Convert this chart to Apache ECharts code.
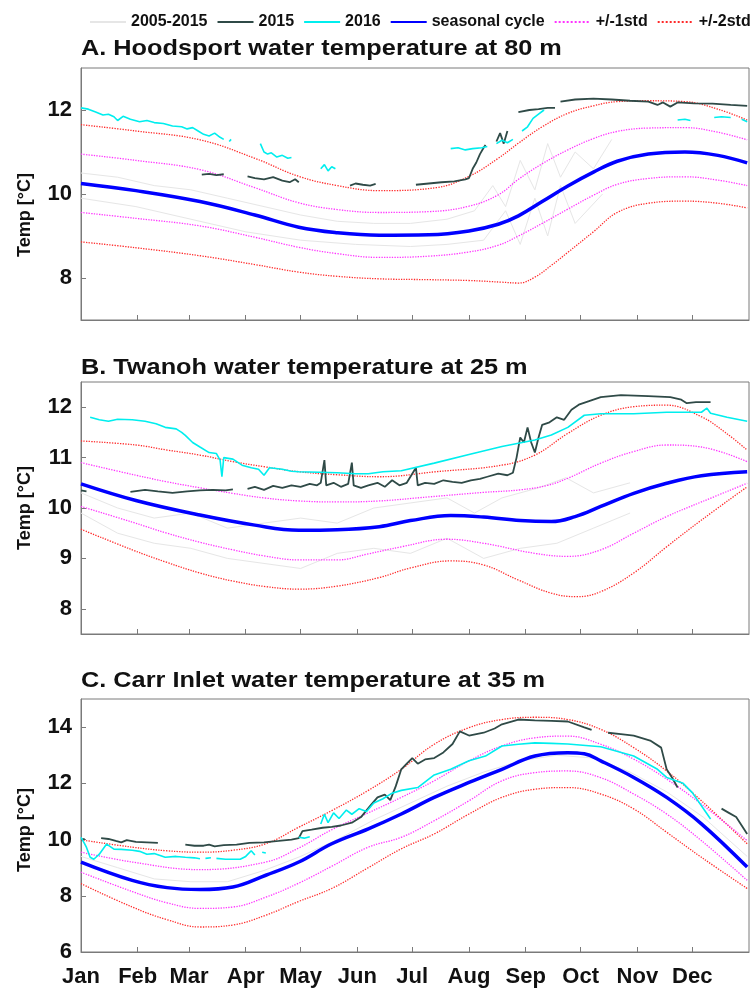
<!DOCTYPE html>
<html>
<head>
<meta charset="utf-8">
<script src="https://cdn.jsdelivr.net/npm/echarts@6/dist/echarts.min.js"></script>
<style>
  html, body { margin: 0; padding: 0; background: #fff; }
  #main { width: 751px; height: 990px; }
</style>
</head>
<body>
<div id="main"></div>
<script>
// x = day of year (0 = Jan 1), y = temperature in deg C
const monthNames = ["Jan", "Feb", "Mar", "Apr", "May", "Jun", "Jul", "Aug", "Sep", "Oct", "Nov", "Dec"];
const monthStarts = [0, 31, 59, 90, 120, 151, 181, 212, 243, 273, 304, 334];

// ---- A. Hoodsport 80 m
const hoodSeasonal = [[0,10.25],[30,10.08],[65,9.82],[95,9.5],[119,9.21],[140,9.08],[163,9.02],[190,9.03],[212,9.12],[228,9.28],[239,9.48],[252,9.82],[266,10.19],[280,10.52],[293,10.78],[310,10.95],[330,11.0],[348,10.92],[364,10.74]];
const hoodStd1Up = [[0,10.95],[30,10.8],[65,10.58],[95,10.15],[119,9.79],[140,9.63],[163,9.56],[190,9.58],[212,9.71],[228,9.98],[239,10.35],[252,10.72],[266,11.05],[280,11.32],[293,11.49],[310,11.57],[330,11.58],[348,11.47],[364,11.29]];
const hoodStd1Dn = [[0,9.56],[30,9.42],[65,9.24],[95,8.97],[119,8.73],[140,8.58],[163,8.49],[190,8.52],[212,8.62],[228,8.78],[239,9.0],[252,9.3],[266,9.64],[280,9.97],[293,10.23],[310,10.37],[330,10.41],[348,10.33],[364,10.2]];
const hoodStd2Up = [[0,11.65],[30,11.5],[65,11.29],[95,10.85],[119,10.42],[140,10.2],[163,10.08],[194,10.15],[212,10.42],[228,10.85],[239,11.21],[252,11.6],[266,11.92],[280,12.1],[293,12.2],[310,12.22],[330,12.2],[348,12.02],[364,11.76]];
const hoodStd2Dn = [[0,8.86],[30,8.72],[65,8.53],[95,8.32],[119,8.14],[140,8.04],[163,7.98],[190,7.96],[212,7.94],[230,7.9],[239,7.88],[248,8.02],[257,8.3],[266,8.61],[280,9.1],[293,9.56],[310,9.78],[330,9.83],[348,9.78],[364,9.67]];
const hood2015 = [
  [[66,10.46],[70,10.48],[74,10.45],[78,10.47]],
  [[91,10.42],[95,10.38],[100,10.35],[105,10.4],[110,10.32],[114,10.28],[117,10.35],[119,10.28]],
  [[147,10.2],[150,10.25],[154,10.22],[158,10.2],[161,10.24]],
  [[183,10.22],[190,10.25],[197,10.28],[204,10.3],[210,10.35],[212,10.38],[214,10.6],[216,10.75],[218,10.95],[220,11.1],[221,11.17]],
  [[227,11.25],[229,11.45],[231,11.2],[233,11.5]],
  [[239,11.95],[245,12.0],[250,12.02],[255,12.05],[259,12.05]],
  [[262,12.2],[270,12.25],[280,12.27],[290,12.25],[300,12.22],[310,12.2],[315,12.12],[318,12.18],[322,12.08],[326,12.18],[335,12.16],[345,12.15],[355,12.12],[364,12.1]]
];
const hood2016 = [
  [[0,12.05],[4,12.02],[8,11.95],[12,11.88],[15,11.9],[18,11.84],[20,11.75],[23,11.85],[27,11.78],[32,11.72],[36,11.75],[40,11.7],[45,11.68],[50,11.62],[55,11.6],[58,11.55],[61,11.58],[64,11.5],[67,11.42],[70,11.38],[73,11.45],[76,11.35],[78,11.3]],
  [[81,11.25],[82,11.3]],
  [[98,11.2],[100,11.0],[102,10.95],[104,10.98],[107,10.88],[110,10.92],[113,10.85],[115,10.87]],
  [[131,10.6],[133,10.7],[135,10.55],[137,10.65],[139,10.6]],
  [[202,11.08],[206,11.1],[210,11.05],[214,11.08],[219,11.1],[222,11.13]],
  [[227,11.2],[230,11.28],[233,11.22],[236,11.3]],
  [[241,11.5],[244,11.6],[247,11.8],[250,11.9],[253,12.0]],
  [[326,11.76],[330,11.78],[333,11.75]],
  [[346,11.82],[350,11.84],[355,11.82]],
  [[361,11.78],[364,11.72]]
];
const hoodPast = [
  [[0,10.5],[20,10.4],[40,10.2],[60,10.1],[80,9.9],[100,9.7],[120,9.5],[140,9.35],[160,9.3],[180,9.3],[200,9.4],[215,9.6],[225,10.2],[232,9.7],[240,10.8],[248,10.1],[255,11.2],[262,10.4],[270,11.0],[280,10.6],[290,11.3]],
  [[0,9.9],[30,9.7],[60,9.4],[90,9.1],[120,8.9],[150,8.8],[180,8.75],[200,8.8],[220,8.9],[232,9.6],[240,8.8],[248,9.9],[255,9.0],[262,10.2],[270,9.3],[285,10.0]]
];

// ---- B. Twanoh 25 m
const twaSeasonal = [[0,10.48],[30,10.15],[65,9.86],[95,9.66],[119,9.56],[140,9.57],[163,9.63],[180,9.75],[202,9.85],[220,9.82],[240,9.75],[257,9.73],[270,9.83],[284,10.03],[302,10.29],[320,10.49],[339,10.64],[364,10.72]];
const twaStd1Up = [[0,10.9],[30,10.65],[47,10.52],[65,10.4],[83,10.29],[100,10.2],[119,10.14],[140,10.12],[163,10.14],[190,10.22],[220,10.31],[240,10.36],[255,10.45],[266,10.59],[284,10.89],[302,11.12],[320,11.25],[339,11.21],[364,10.92]];
const twaStd1Dn = [[0,10.03],[28,9.72],[47,9.5],[65,9.32],[83,9.17],[100,9.05],[119,8.97],[140,8.97],[157,9.09],[175,9.23],[200,9.38],[220,9.3],[248,9.1],[266,9.04],[284,9.17],[302,9.5],[320,9.83],[339,10.12],[364,10.49]];
const twaStd2Up = [[0,11.33],[30,11.25],[47,11.15],[65,11.05],[83,10.92],[100,10.82],[119,10.72],[140,10.66],[163,10.62],[194,10.72],[230,10.85],[248,11.05],[266,11.48],[284,11.84],[302,12.01],[320,12.04],[339,11.81],[352,11.5],[364,11.15]];
const twaStd2Dn = [[0,9.58],[28,9.17],[47,8.92],[65,8.71],[83,8.55],[101,8.44],[119,8.39],[140,8.45],[163,8.62],[180,8.81],[202,8.95],[220,8.87],[239,8.57],[257,8.31],[271,8.24],[284,8.34],[302,8.71],[320,9.23],[339,9.76],[364,10.42]];
const twa2015 = [
  [[0,10.35],[3,10.33]],
  [[27,10.32],[35,10.36],[42,10.33],[50,10.3],[58,10.33],[65,10.35],[72,10.36],[79,10.35],[83,10.37]],
  [[91,10.38],[95,10.42],[100,10.36],[105,10.44],[110,10.4],[115,10.45],[120,10.42],[125,10.48],[129,10.45],[131,10.5],[133,10.95],[134,10.45],[138,10.5],[142,10.42],[146,10.48],[148,10.9],[149,10.45],[153,10.4],[157,10.45],[162,10.5],[166,10.42],[170,10.55],[174,10.45],[178,10.5],[183,10.8],[184,10.45],[188,10.5],[193,10.48],[198,10.55],[203,10.52],[208,10.5],[213,10.55],[218,10.58],[222,10.62],[228,10.68],[233,10.65],[236,10.7],[238,11.0],[240,11.4],[242,11.3],[244,11.6],[246,11.3],[248,11.1],[250,11.4],[252,11.65],[256,11.7],[260,11.8],[264,11.75],[268,11.95],[272,12.05],[276,12.1],[280,12.15],[284,12.2],[295,12.24],[310,12.22],[322,12.2],[328,12.15],[331,12.08],[336,12.1],[344,12.1]]
];
const twa2016 = [
  [[5,11.8],[10,11.75],[15,11.72],[20,11.76],[28,11.75],[35,11.72],[41,11.67],[46,11.6],[52,11.57],[55,11.5],[57,11.44],[61,11.3],[65,11.21],[70,11.1],[74,11.08],[76,10.95],[77,10.62],[78,11.0],[83,10.97],[88,10.85],[93,10.8],[97,10.77],[100,10.65],[103,10.8],[110,10.77],[115,10.73],[119,10.72],[130,10.71],[140,10.7],[150,10.68],[157,10.68],[165,10.72],[175,10.74],[193,10.89],[212,11.06],[230,11.22],[248,11.35],[257,11.45],[266,11.6],[275,11.84],[284,11.87],[302,11.87],[320,11.9],[339,11.9],[342,11.98],[344,11.88],[353,11.8],[364,11.72]]
];
const twaPast = [
  [[0,10.3],[20,10.0],[40,9.8],[60,9.9],[80,9.6],[100,9.7],[120,9.8],[140,9.7],[160,10.0],[180,10.1],[200,10.2],[215,9.9],[230,10.2],[250,10.4],[265,10.6],[280,10.3],[300,10.5]],
  [[0,9.9],[20,9.5],[40,9.3],[60,9.2],[80,9.0],[100,8.9],[120,8.8],[140,9.1],[160,9.2],[180,9.1],[200,9.4],[220,9.0],[240,9.2],[260,9.3],[280,9.6],[300,9.9]]
];

// ---- C. Carr Inlet 35 m
const carrSeasonal = [[0,9.2],[28,8.55],[47,8.29],[65,8.22],[83,8.31],[101,8.73],[119,9.2],[137,9.85],[157,10.38],[175,10.91],[193,11.5],[212,12.03],[230,12.5],[248,12.97],[266,13.09],[275,13.05],[284,12.8],[302,12.21],[320,11.5],[339,10.56],[364,9.02]];
const carrStd1Up = [[0,9.55],[28,9.2],[65,8.93],[101,9.2],[119,9.7],[137,10.35],[157,10.95],[175,11.5],[193,12.09],[212,12.8],[230,13.33],[248,13.62],[266,13.68],[284,13.39],[302,12.86],[320,12.15],[339,11.26],[364,9.96]];
const carrStd1Dn = [[0,8.84],[28,8.15],[47,7.75],[65,7.55],[83,7.6],[101,7.95],[119,8.45],[137,9.05],[157,9.73],[175,10.08],[193,10.67],[212,11.38],[230,12.09],[248,12.38],[266,12.44],[284,12.2],[302,11.62],[320,10.91],[339,9.96],[364,8.55]];
const carrStd2Up = [[0,9.99],[28,9.73],[47,9.6],[65,9.55],[83,9.62],[101,9.85],[119,10.44],[137,11.03],[157,11.75],[175,12.5],[193,13.39],[212,13.98],[230,14.27],[248,14.35],[266,14.27],[284,13.92],[302,13.27],[320,12.44],[339,11.38],[364,9.85]];
const carrStd2Dn = [[0,8.43],[28,7.6],[47,7.15],[65,6.89],[83,6.96],[101,7.31],[119,7.8],[137,8.26],[157,9.0],[175,9.67],[193,10.2],[212,10.91],[230,11.5],[248,11.79],[266,11.85],[284,11.62],[302,11.09],[320,10.26],[339,9.37],[364,8.26]];
const carr2015 = [
  [[0,10.0],[2,10.02]],
  [[11,10.05],[15,10.02],[19,9.95],[22,9.9],[25,9.98],[30,9.92],[36,9.9],[42,9.88]],
  [[57,9.82],[62,9.78],[67,9.78],[70,9.82],[73,9.76],[78,9.8],[85,9.82],[92,9.88],[100,9.9],[108,9.95],[115,10.0],[119,10.05],[121,10.3],[126,10.35],[132,10.42],[137,10.45],[142,10.5],[148,10.6],[153,10.8],[158,11.2],[162,11.5],[166,11.6],[169,11.4],[172,11.9],[175,12.5],[178,12.7],[181,12.9],[184,12.7],[188,12.85],[193,12.9],[198,13.1],[203,13.4],[207,13.85],[212,13.7],[220,13.8],[226,13.95],[230,14.1],[239,14.27],[248,14.24],[257,14.22],[266,14.2],[275,13.99],[279,13.9]],
  [[288,13.8],[295,13.75],[302,13.7],[311,13.52],[317,13.27],[320,12.5],[323,12.2],[326,11.85]],
  [[350,11.1],[354,10.95],[358,10.8],[361,10.5],[364,10.2]]
];
const carr2016 = [
  [[0,10.08],[2,9.85],[3,9.72],[5,9.37],[7,9.3],[10,9.48],[14,9.84],[18,9.66],[22,9.65],[28,9.62],[32,9.58],[36,9.48],[40,9.5],[46,9.37],[52,9.4],[57,9.37],[62,9.35],[65,9.32]],
  [[68,9.33],[71,9.35]],
  [[74,9.33],[79,9.3],[83,9.3],[87,9.3],[90,9.4],[93,9.6],[95,9.45]],
  [[99,9.55],[101,9.52]],
  [[119,10.08],[122,10.05],[125,10.1]],
  [[131,10.55],[133,10.9],[135,10.6],[138,10.95],[141,10.75],[145,11.05],[148,10.9],[152,11.1],[156,11.0],[160,11.3],[165,11.45],[170,11.65],[175,11.75],[184,11.85],[193,12.3],[202,12.5],[212,12.8],[221,12.97],[230,13.33],[239,13.39],[248,13.44],[257,13.42],[266,13.4],[284,13.3],[302,12.97],[315,12.5],[320,12.21],[329,12.0],[334,11.67],[339,11.2],[344,10.73]]
];
const carrPast = [
  [[0,9.4],[20,9.0],[40,8.6],[60,8.5],[80,8.5],[100,8.9],[120,9.4],[140,10.0],[160,10.7],[180,11.3],[200,11.9],[220,12.4],[240,12.8],[260,13.0],[280,12.9],[300,12.4],[320,11.7],[340,10.8],[364,9.4]]
];

// y axes: [min, max, tick values]
const yMinMax = [[7, 13], [7.5, 12.5], [6, 15]];
const yTicks = [[8, 10, 12], [8, 9, 10, 11, 12], [6, 8, 10, 12, 14]];
const titles = ["A. Hoodsport water temperature at 80 m", "B. Twanoh water temperature at 25 m", "C. Carr Inlet water temperature at 35 m"];

const panels = [
  { past: hoodPast, y2015: hood2015, y2016: hood2016, seas: hoodSeasonal, s1: [hoodStd1Up, hoodStd1Dn], s2: [hoodStd2Up, hoodStd2Dn] },
  { past: twaPast, y2015: twa2015, y2016: twa2016, seas: twaSeasonal, s1: [twaStd1Up, twaStd1Dn], s2: [twaStd2Up, twaStd2Dn] },
  { past: carrPast, y2015: carr2015, y2016: carr2016, seas: carrSeasonal, s1: [carrStd1Up, carrStd1Dn], s2: [carrStd2Up, carrStd2Dn] }
];

const FONT = "'Liberation Sans', Arial, Helvetica, sans-serif";
const axisGray = "#7a7a7a";
const grids = [
  { left: 81, top: 68, width: 668, height: 252 },
  { left: 81, top: 382, width: 668, height: 252 },
  { left: 81, top: 699, width: 668, height: 253 }
];

const styles = {
  "2005-2015": { color: "#e6e6e6", width: 1, type: "solid" },
  "2015": { color: "#2f4a47", width: 1.8, type: "solid" },
  "2016": { color: "#00eeee", width: 1.6, type: "solid" },
  "seasonal cycle": { color: "#0000ff", width: 3.5, type: "solid" },
  "+/-1std": { color: "#ff33ff", width: 1.3, type: "dotted" },
  "+/-2std": { color: "#ff2a2a", width: 1.3, type: "dotted" }
};

function mk(name, data, idx, smooth, z) {
  const st = styles[name];
  return {
    type: "line", name: name, data: data,
    xAxisIndex: idx, yAxisIndex: idx,
    symbol: "none", showSymbol: false, smooth: smooth ? 0.4 : false,
    lineStyle: { color: st.color, width: st.width, type: st.type },
    itemStyle: { color: st.color },
    z: z, silent: true
  };
}

const series = [];
panels.forEach((p, i) => {
  p.past.forEach(seg => series.push(mk("2005-2015", seg, i, false, 1)));
  p.s2.forEach(d => series.push(mk("+/-2std", d, i, true, 2)));
  p.s1.forEach(d => series.push(mk("+/-1std", d, i, true, 2)));
  series.push(mk("seasonal cycle", p.seas, i, true, 3));
  p.y2015.forEach(seg => series.push(mk("2015", seg, i, false, 4)));
  p.y2016.forEach(seg => series.push(mk("2016", seg, i, false, 5)));
});

const xAxes = grids.map((g, i) => ({
  type: "value", gridIndex: i, min: 0, max: 365,
  axisLine: { show: true, lineStyle: { color: axisGray, width: 1 } },
  axisTick: { show: true, inside: true, length: 5, customValues: monthStarts, lineStyle: { color: axisGray } },
  axisLabel: {
    show: i === 2, customValues: monthStarts, margin: 14,
    formatter: v => monthNames[monthStarts.indexOf(v)] || "",
    color: "#111", fontSize: 22, fontWeight: "bold", fontFamily: FONT
  },
  splitLine: { show: false }
}));

const yAxes = grids.map((g, i) => ({
  type: "value", gridIndex: i, min: yMinMax[i][0], max: yMinMax[i][1],
  axisLine: { show: true, lineStyle: { color: axisGray, width: 1 } },
  axisTick: { show: true, inside: true, length: 5, customValues: yTicks[i], lineStyle: { color: axisGray } },
  axisLabel: {
    customValues: yTicks[i], margin: 9,
    color: "#111", fontSize: 22, fontWeight: "bold", fontFamily: FONT
  },
  splitLine: { show: false }
}));

const titleY = [49, 368, 681];
const ynameY = [215, 508, 830];
const graphics = [];
titles.forEach((t, i) => {
  graphics.push({
    type: "text", x: 81, y: titleY[i], scaleX: 1.15,
    style: { text: t, font: "bold 22px " + FONT, fill: "#111", textAlign: "left", textVerticalAlign: "middle" }
  });
  graphics.push({
    type: "text", x: 25, y: ynameY[i], rotation: Math.PI / 2,
    style: { text: "Temp [°C]", font: "bold 18px " + FONT, fill: "#111", textAlign: "center", textVerticalAlign: "middle" }
  });
});

const chart = echarts.init(document.getElementById("main"));
chart.setOption({
  animation: false,
  backgroundColor: "#fff",
  legend: {
    data: ["2005-2015", "2015", "2016", "seasonal cycle", "+/-1std", "+/-2std"],
    left: 84, top: 9, width: 667, itemWidth: 36, itemHeight: 10, itemGap: 9,
    itemStyle: { opacity: 0 },
    textStyle: { fontSize: 16, fontWeight: "bold", fontFamily: FONT, color: "#111" }
  },
  grid: grids.map(g => Object.assign({ show: true, borderColor: axisGray, borderWidth: 1, backgroundColor: "transparent" }, g)),
  xAxis: xAxes,
  yAxis: yAxes,
  graphic: graphics,
  series: series
});
</script>
</body>
</html>
